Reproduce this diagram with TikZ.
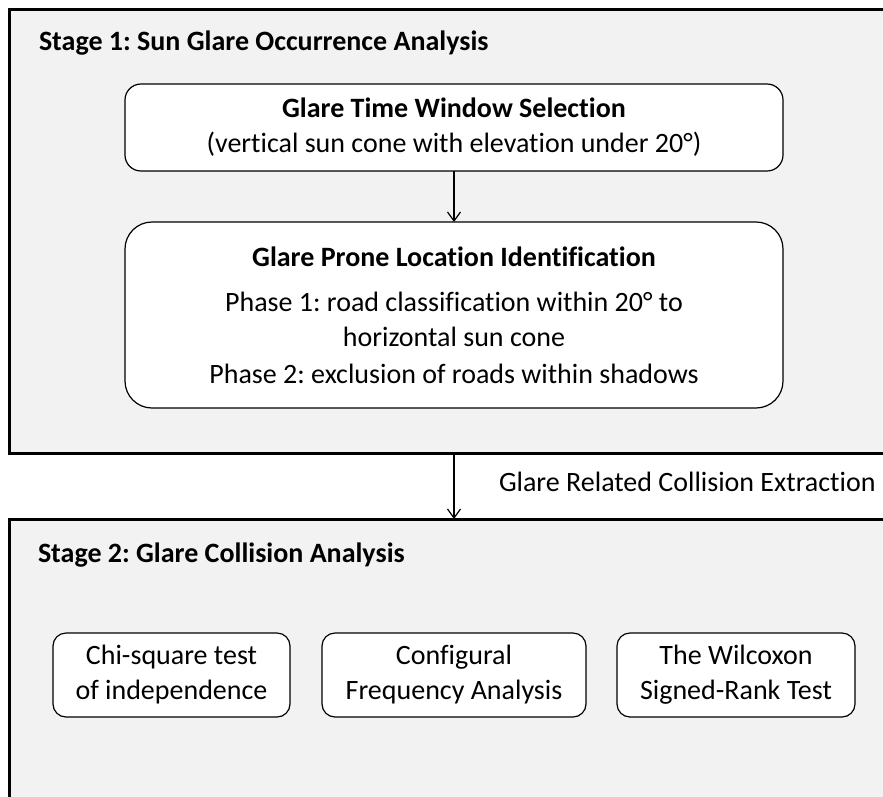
\documentclass[tikz,border=0pt]{standalone}
\usepackage{fontspec}
\setmainfont{Carlito}[Ligatures = NoCommon]
\usepackage{tikz}
\usetikzlibrary{arrows.meta,positioning}
\usepackage{xcolor}
\definecolor{stagegray}{HTML}{F2F2F2}
\frenchspacing

\begin{document}
\begin{tikzpicture} [
      x = 1pt, y = -1pt,
      inner sep = 0, outer sep = 0,
      every node/.style = { font = \fontsize{28}{35}\selectfont },
      stage/.style = { draw, line width = 3pt, fill = stagegray, anchor = north west, minimum width = 990pt },
      stagetitle/.style = { font = \bfseries\fontsize{28}{35}\selectfont, anchor = base west },
      box/.style = { draw, line width = 1.2pt, fill = white, align = center },
      testbox/.style = { box, rounded corners = 13pt, minimum height = 84pt },
      flow/.style = { line width = 1.2pt, -{Straight Barb[length = 9pt, width = 13pt, line width = 1.2pt]} }
      ]
      \useasboundingbox (0,0) rectangle (883,796);
      \clip (0,0) rectangle (883,796);

      % stage 1
      \node [stage, minimum height = 444pt] (stage1) at (9,9) {};
      \node [stagetitle] (title1) at (39,50) {Stage 1: Sun Glare Occurrence Analysis};
      \node [box, rounded corners = 16pt, minimum width = 658pt, minimum height = 87pt] (window) at (454,127.5)
        {\textbf{Glare Time Window Selection}\\(vertical sun cone with elevation under 20°)};
      \node [box, rounded corners = 27pt, minimum width = 658pt, minimum height = 186pt, below = 51pt of window] (prone)
        {\textbf{Glare Prone Location Identification}\\[10pt]
         Phase 1: road classification within 20° to\\
         horizontal sun cone\\[2pt]
         Phase 2: exclusion of roads within shadows};
      \draw [flow] (window.south) -- (prone.north);

      % stage 2
      \node [stage, minimum height = 400pt] (stage2) at (9,519) {};
      \node [stagetitle] (title2) at (38,562) {Stage 2: Glare Collision Analysis};
      \node [testbox, minimum width = 237pt] (chi) at (171.5,675) {Chi-square test\\of independence};
      \node [testbox, minimum width = 264pt, right = 32pt of chi] (cfa) {Configural\\Frequency Analysis};
      \node [testbox, minimum width = 238pt, right = 31pt of cfa] (wsr) {The Wilcoxon\\Signed-Rank Test};

      \draw [flow] (prone.south |- stage1.south) -- (prone.south |- stage2.north);
      \node [anchor = base west] (extract) at (499,491) {Glare Related Collision Extraction};
    \end{tikzpicture}
\end{document}
